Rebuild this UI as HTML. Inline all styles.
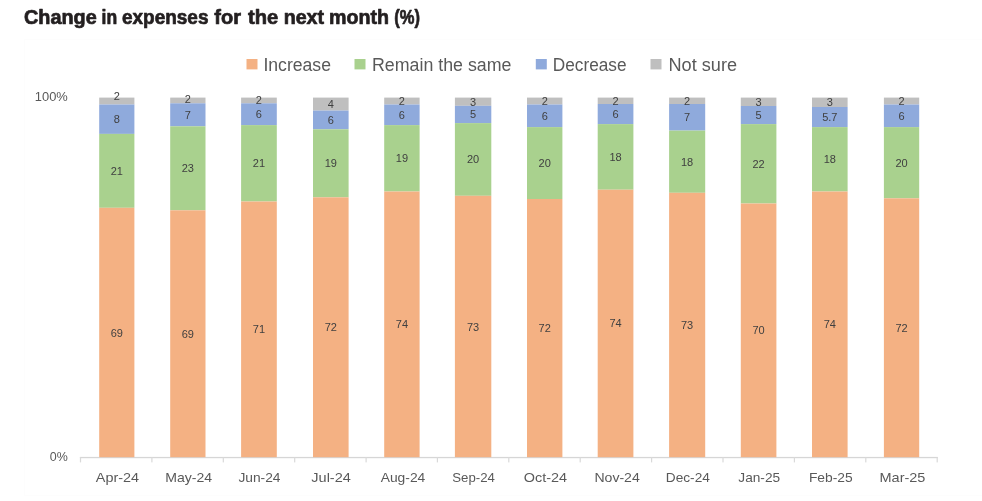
<!DOCTYPE html>
<html lang="en"><head><meta charset="utf-8"><title>Change in expenses for the next month (%)</title>
<style>
html,body{margin:0;padding:0;background:#fff}
body{width:982px;height:501px;overflow:hidden;font-family:"Liberation Sans",sans-serif}
svg{display:block;position:absolute;left:0;top:0}
.t{font-family:"Liberation Sans",sans-serif;font-weight:bold;font-size:20px;fill:#231f20;stroke:#231f20;stroke-width:0.7px;stroke-linejoin:round}
.lg{font-family:"Liberation Sans",sans-serif;font-size:17.5px;fill:#595959}
.ax{font-family:"Liberation Sans",sans-serif;font-size:13px;fill:#595959}
.dl{font-family:"Liberation Sans",sans-serif;font-size:11px;fill:#404040;text-anchor:middle}
</style></head><body>
<svg width="982" height="501" viewBox="0 0 982 501">
<rect x="0" y="0" width="982" height="501" fill="#ffffff"/>
<rect x="24.6" y="39.6" width="970" height="456" fill="#ffffff" stroke="#fdfdfd" stroke-width="1"/>

<g class="t">
<text x="24" y="23.5" textLength="72.7" lengthAdjust="spacingAndGlyphs">Change</text>
<text x="101.6" y="23.5" textLength="15.6" lengthAdjust="spacingAndGlyphs">in</text>
<text x="121.9" y="23.5" textLength="86.6" lengthAdjust="spacingAndGlyphs">expenses</text>
<text x="214.3" y="23.5" textLength="26.7" lengthAdjust="spacingAndGlyphs">for</text>
<text x="248.0" y="23.5" textLength="30.2" lengthAdjust="spacingAndGlyphs">the</text>
<text x="283.7" y="23.5" textLength="40.4" lengthAdjust="spacingAndGlyphs">next</text>
<text x="329" y="23.5" textLength="60.0" lengthAdjust="spacingAndGlyphs">month</text>
<text x="394.3" y="23.5" textLength="25.7" lengthAdjust="spacingAndGlyphs">(%)</text>
</g>
<rect x="246.5" y="59.0" width="11" height="10.4" fill="#F4B183"/>
<text class="lg" x="263.4" y="70.8" textLength="67.6" lengthAdjust="spacingAndGlyphs">Increase</text>
<rect x="354.5" y="59.0" width="11" height="10.4" fill="#A9D18E"/>
<text class="lg" x="372" y="70.8" textLength="139.5" lengthAdjust="spacingAndGlyphs">Remain the same</text>
<rect x="535.8" y="59.0" width="11" height="10.4" fill="#8FAADC"/>
<text class="lg" x="552.8" y="70.8" textLength="73.7" lengthAdjust="spacingAndGlyphs">Decrease</text>
<rect x="650.5" y="59.0" width="11" height="10.4" fill="#BFBFBF"/>
<text class="lg" x="668.5" y="70.8" textLength="68.5" lengthAdjust="spacingAndGlyphs">Not sure</text>
<text class="ax" x="34.8" y="101.4" textLength="33" lengthAdjust="spacingAndGlyphs">100%</text>
<text class="ax" x="49.8" y="461.2" textLength="18" lengthAdjust="spacingAndGlyphs">0%</text>
<rect x="79.9" y="456.9" width="857.9" height="1.3" fill="#d6d6d6"/>
<rect x="79.9" y="457" width="1.2" height="5.4" fill="#d9d9d9"/>
<rect x="151.3" y="457" width="1.2" height="5.4" fill="#d9d9d9"/>
<rect x="222.7" y="457" width="1.2" height="5.4" fill="#d9d9d9"/>
<rect x="294.1" y="457" width="1.2" height="5.4" fill="#d9d9d9"/>
<rect x="365.5" y="457" width="1.2" height="5.4" fill="#d9d9d9"/>
<rect x="436.8" y="457" width="1.2" height="5.4" fill="#d9d9d9"/>
<rect x="508.2" y="457" width="1.2" height="5.4" fill="#d9d9d9"/>
<rect x="579.6" y="457" width="1.2" height="5.4" fill="#d9d9d9"/>
<rect x="651.0" y="457" width="1.2" height="5.4" fill="#d9d9d9"/>
<rect x="722.4" y="457" width="1.2" height="5.4" fill="#d9d9d9"/>
<rect x="793.8" y="457" width="1.2" height="5.4" fill="#d9d9d9"/>
<rect x="865.2" y="457" width="1.2" height="5.4" fill="#d9d9d9"/>
<rect x="936.6" y="457" width="1.2" height="5.4" fill="#d9d9d9"/>
<rect x="99.2" y="97.6" width="35.2" height="6.9" fill="#BFBFBF"/>
<rect x="99.2" y="104.5" width="35.2" height="29.4" fill="#8FAADC"/>
<rect x="99.2" y="133.9" width="35.2" height="73.9" fill="#A9D18E"/>
<rect x="99.2" y="207.8" width="35.2" height="249.4" fill="#F4B183"/>
<text class="dl" x="116.8" y="100.2">2</text>
<text class="dl" x="116.8" y="123.2">8</text>
<text class="dl" x="116.8" y="174.9">21</text>
<text class="dl" x="116.8" y="336.5">69</text>
<rect x="170.2" y="97.6" width="35.3" height="5.7" fill="#BFBFBF"/>
<rect x="170.2" y="103.3" width="35.3" height="23.0" fill="#8FAADC"/>
<rect x="170.2" y="126.3" width="35.3" height="84.0" fill="#A9D18E"/>
<rect x="170.2" y="210.3" width="35.3" height="246.9" fill="#F4B183"/>
<text class="dl" x="187.8" y="103.1">2</text>
<text class="dl" x="187.8" y="118.8">7</text>
<text class="dl" x="187.8" y="172.3">23</text>
<text class="dl" x="187.8" y="337.8">69</text>
<rect x="241.1" y="97.6" width="35.7" height="5.7" fill="#BFBFBF"/>
<rect x="241.1" y="103.3" width="35.7" height="21.8" fill="#8FAADC"/>
<rect x="241.1" y="125.1" width="35.7" height="76.4" fill="#A9D18E"/>
<rect x="241.1" y="201.5" width="35.7" height="255.7" fill="#F4B183"/>
<text class="dl" x="258.9" y="104.4">2</text>
<text class="dl" x="258.9" y="118.2">6</text>
<text class="dl" x="258.9" y="167.3">21</text>
<text class="dl" x="258.9" y="333.4">71</text>
<rect x="313.0" y="97.6" width="35.6" height="13.0" fill="#BFBFBF"/>
<rect x="313.0" y="110.6" width="35.6" height="18.7" fill="#8FAADC"/>
<rect x="313.0" y="129.3" width="35.6" height="68.0" fill="#A9D18E"/>
<rect x="313.0" y="197.3" width="35.6" height="259.9" fill="#F4B183"/>
<text class="dl" x="330.8" y="108.1">4</text>
<text class="dl" x="330.8" y="124.0">6</text>
<text class="dl" x="330.8" y="167.3">19</text>
<text class="dl" x="330.8" y="331.2">72</text>
<rect x="384.2" y="97.6" width="35.4" height="6.9" fill="#BFBFBF"/>
<rect x="384.2" y="104.5" width="35.4" height="20.6" fill="#8FAADC"/>
<rect x="384.2" y="125.1" width="35.4" height="66.4" fill="#A9D18E"/>
<rect x="384.2" y="191.5" width="35.4" height="265.7" fill="#F4B183"/>
<text class="dl" x="401.9" y="105.0">2</text>
<text class="dl" x="401.9" y="118.8">6</text>
<text class="dl" x="401.9" y="162.3">19</text>
<text class="dl" x="401.9" y="328.4">74</text>
<rect x="454.9" y="97.6" width="36.4" height="8.2" fill="#BFBFBF"/>
<rect x="454.9" y="105.8" width="36.4" height="17.3" fill="#8FAADC"/>
<rect x="454.9" y="123.1" width="36.4" height="72.7" fill="#A9D18E"/>
<rect x="454.9" y="195.8" width="36.4" height="261.4" fill="#F4B183"/>
<text class="dl" x="473.1" y="105.7">3</text>
<text class="dl" x="473.1" y="118.4">5</text>
<text class="dl" x="473.1" y="163.4">20</text>
<text class="dl" x="473.1" y="330.5">73</text>
<rect x="527.0" y="97.6" width="35.4" height="6.9" fill="#BFBFBF"/>
<rect x="527.0" y="104.5" width="35.4" height="22.6" fill="#8FAADC"/>
<rect x="527.0" y="127.1" width="35.4" height="71.9" fill="#A9D18E"/>
<rect x="527.0" y="199.0" width="35.4" height="258.2" fill="#F4B183"/>
<text class="dl" x="544.7" y="105.0">2</text>
<text class="dl" x="544.7" y="119.8">6</text>
<text class="dl" x="544.7" y="167.1">20</text>
<text class="dl" x="544.7" y="332.1">72</text>
<rect x="597.7" y="97.6" width="35.7" height="6.4" fill="#BFBFBF"/>
<rect x="597.7" y="104.0" width="35.7" height="20.1" fill="#8FAADC"/>
<rect x="597.7" y="124.1" width="35.7" height="65.6" fill="#A9D18E"/>
<rect x="597.7" y="189.7" width="35.7" height="267.5" fill="#F4B183"/>
<text class="dl" x="615.6" y="104.8">2</text>
<text class="dl" x="615.6" y="118.0">6</text>
<text class="dl" x="615.6" y="160.9">18</text>
<text class="dl" x="615.6" y="327.4">74</text>
<rect x="669.1" y="97.6" width="36.1" height="6.4" fill="#BFBFBF"/>
<rect x="669.1" y="104.0" width="36.1" height="26.6" fill="#8FAADC"/>
<rect x="669.1" y="130.6" width="36.1" height="62.2" fill="#A9D18E"/>
<rect x="669.1" y="192.8" width="36.1" height="264.4" fill="#F4B183"/>
<text class="dl" x="687.1" y="104.8">2</text>
<text class="dl" x="687.1" y="121.3">7</text>
<text class="dl" x="687.1" y="165.7">18</text>
<text class="dl" x="687.1" y="329.0">73</text>
<rect x="740.8" y="97.6" width="35.6" height="8.4" fill="#BFBFBF"/>
<rect x="740.8" y="106.0" width="35.6" height="18.1" fill="#8FAADC"/>
<rect x="740.8" y="124.1" width="35.6" height="79.4" fill="#A9D18E"/>
<rect x="740.8" y="203.5" width="35.6" height="253.7" fill="#F4B183"/>
<text class="dl" x="758.6" y="105.8">3</text>
<text class="dl" x="758.6" y="119.0">5</text>
<text class="dl" x="758.6" y="167.8">22</text>
<text class="dl" x="758.6" y="334.4">70</text>
<rect x="812.0" y="97.6" width="35.6" height="9.4" fill="#BFBFBF"/>
<rect x="812.0" y="107.0" width="35.6" height="20.1" fill="#8FAADC"/>
<rect x="812.0" y="127.1" width="35.6" height="64.4" fill="#A9D18E"/>
<rect x="812.0" y="191.5" width="35.6" height="265.7" fill="#F4B183"/>
<text class="dl" x="829.8" y="106.3">3</text>
<text class="dl" x="829.8" y="121.0">5.7</text>
<text class="dl" x="829.8" y="163.3">18</text>
<text class="dl" x="829.8" y="328.4">74</text>
<rect x="883.9" y="97.6" width="35.3" height="6.9" fill="#BFBFBF"/>
<rect x="883.9" y="104.5" width="35.3" height="22.6" fill="#8FAADC"/>
<rect x="883.9" y="127.1" width="35.3" height="71.2" fill="#A9D18E"/>
<rect x="883.9" y="198.3" width="35.3" height="258.9" fill="#F4B183"/>
<text class="dl" x="901.5" y="105.0">2</text>
<text class="dl" x="901.5" y="119.8">6</text>
<text class="dl" x="901.5" y="166.7">20</text>
<text class="dl" x="901.5" y="331.8">72</text>
<text class="ax" x="95.8" y="482.3" textLength="43.3" lengthAdjust="spacingAndGlyphs">Apr-24</text>
<text class="ax" x="165.2" y="482.3" textLength="46.9" lengthAdjust="spacingAndGlyphs">May-24</text>
<text class="ax" x="238.4" y="482.3" textLength="42.1" lengthAdjust="spacingAndGlyphs">Jun-24</text>
<text class="ax" x="311.3" y="482.3" textLength="39.6" lengthAdjust="spacingAndGlyphs">Jul-24</text>
<text class="ax" x="380.7" y="482.3" textLength="44.6" lengthAdjust="spacingAndGlyphs">Aug-24</text>
<text class="ax" x="452.3" y="482.3" textLength="42.6" lengthAdjust="spacingAndGlyphs">Sep-24</text>
<text class="ax" x="523.8" y="482.3" textLength="43.3" lengthAdjust="spacingAndGlyphs">Oct-24</text>
<text class="ax" x="594.4" y="482.3" textLength="45.4" lengthAdjust="spacingAndGlyphs">Nov-24</text>
<text class="ax" x="665.8" y="482.3" textLength="44.1" lengthAdjust="spacingAndGlyphs">Dec-24</text>
<text class="ax" x="738.3" y="482.3" textLength="41.8" lengthAdjust="spacingAndGlyphs">Jan-25</text>
<text class="ax" x="808.9" y="482.3" textLength="43.8" lengthAdjust="spacingAndGlyphs">Feb-25</text>
<text class="ax" x="879.5" y="482.3" textLength="45.9" lengthAdjust="spacingAndGlyphs">Mar-25</text>
</svg>
</body></html>
